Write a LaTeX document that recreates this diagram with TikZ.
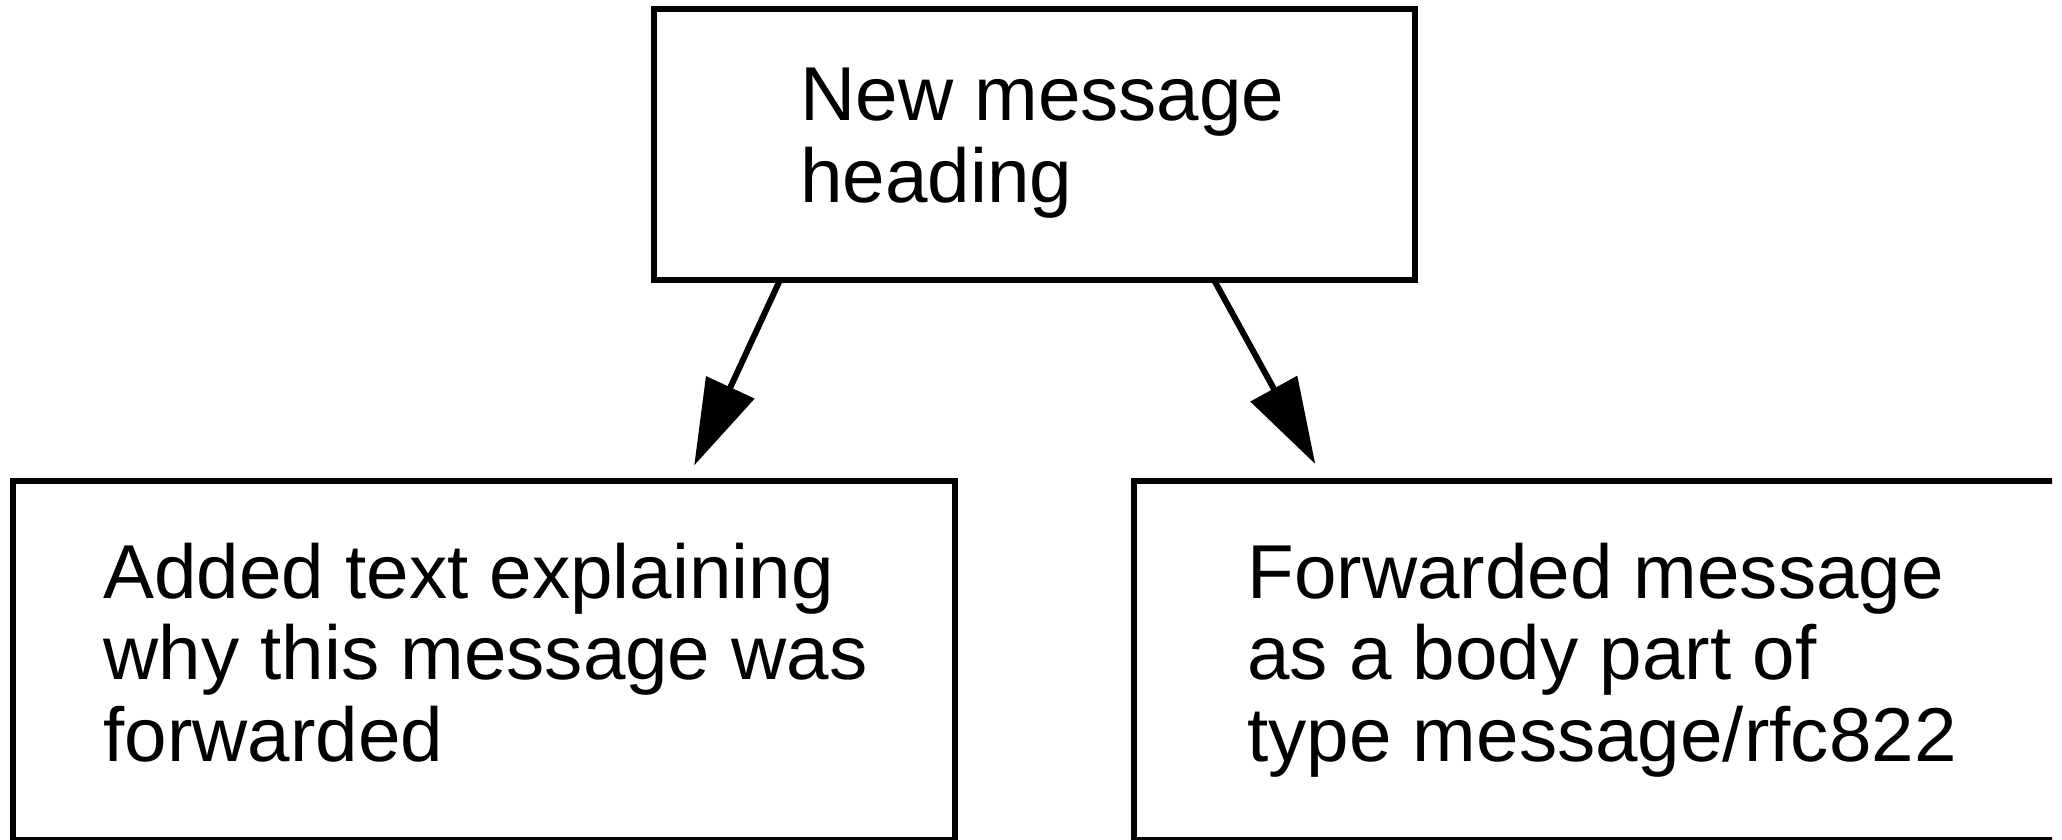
\documentclass[tikz,border=0pt]{standalone}
\usepackage{fontspec}
\setmainfont{Liberation Sans}
\usetikzlibrary{arrows.meta}
\begin{document}
\begin{tikzpicture}[x=0.5pt,y=-0.5pt,
  box/.style={draw=black, line width=3pt, rectangle, inner sep=0pt, outer sep=0pt, anchor=north west},
  lbl/.style={anchor=base west, inner sep=0pt, font=\fontsize{38.2pt}{40.75pt}\selectfont},
  arr/.style={line width=3pt, -{Triangle[length=43pt,width=26pt]}}]
\useasboundingbox (0,0) rectangle (2062,840);
\node[box, minimum width=380.5pt, minimum height=135.5pt] (top) at (654,9) {};
\node[box, minimum width=471pt, minimum height=179.5pt] (left) at (13,481) {};
\begin{scope}
\clip (0,0) rectangle (2052,845);
\node[box, minimum width=462pt, minimum height=179.5pt] (right) at (1134,481) {};
\end{scope}
\node[lbl] (ttop) at (800,121) {\begin{tabular}[t]{@{}l@{}}New message\\heading\end{tabular}};
\node[lbl] (tleft) at (103,598) {\begin{tabular}[t]{@{}l@{}}Added text explaining\\why this message was\\forwarded\end{tabular}};
\node[lbl] (tright) at (1247,598) {\begin{tabular}[t]{@{}l@{}}Forwarded message\\as a body part of\\type message/rfc822\end{tabular}};
\draw[arr, shorten >=8.6pt] ([xshift=63pt]top.south west) -- ([xshift=337pt]left.north west);
\draw[arr, shorten >=9.7pt] ([xshift=280pt]top.south west) -- ([xshift=95.3pt]right.north west);
\end{tikzpicture}
\end{document}
